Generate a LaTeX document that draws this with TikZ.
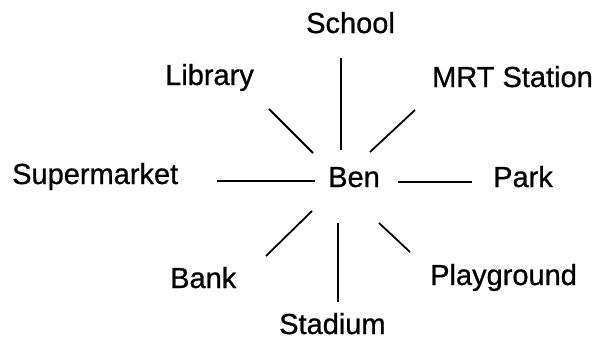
\documentclass[tikz,border=0pt]{standalone}
\usepackage{fontspec}
\setmainfont{Liberation Sans}
\newfontfamily\lblfont[FakeBold=0.8]{Liberation Sans}
\begin{document}
\begin{tikzpicture}[x=1pt,y=-1pt,
  lbl/.style={anchor=base west,inner sep=0pt,font=\lblfont\fontsize{29}{34}\selectfont},
  spoke/.style={draw=black,line width=1.8pt}]
\useasboundingbox (0,0) rectangle (595,340);
% labels
\node[lbl] (school) at (306,33) {School};
\node[lbl] (library) at (165,85) {Library};
\node[lbl] (mrt) at (432,87) {MRT Station};
\node[lbl] (super) at (12,184) {Supermarket};
\node[lbl] (ben) at (328,187) {Ben};
\node[lbl] (park) at (493,187) {Park};
\node[lbl] (bank) at (170,288) {Bank};
\node[lbl] (play) at (430,285) {Playground};
\node[lbl] (stadium) at (279,334) {Stadium};
% spoke end points
\coordinate (s1) at (341,58);  \coordinate (s2) at (341,150);
\coordinate (l1) at (269,109); \coordinate (l2) at (313,153);
\coordinate (m1) at (415,110); \coordinate (m2) at (370,152);
\coordinate (h1) at (217,181); \coordinate (h2) at (315,181);
\coordinate (p1) at (398,182); \coordinate (p2) at (472,182);
\coordinate (b1) at (312,211); \coordinate (b2) at (266,256);
\coordinate (t1) at (338,223); \coordinate (t2) at (338,302);
\coordinate (g1) at (379,223); \coordinate (g2) at (410,252);
% spokes
\draw[spoke] (s1) -- (s2);
\draw[spoke] (l1) -- (l2);
\draw[spoke] (m1) -- (m2);
\draw[spoke] (h1) -- (h2);
\draw[spoke] (p1) -- (p2);
\draw[spoke] (b1) -- (b2);
\draw[spoke] (t1) -- (t2);
\draw[spoke] (g1) -- (g2);
\end{tikzpicture}
\end{document}
